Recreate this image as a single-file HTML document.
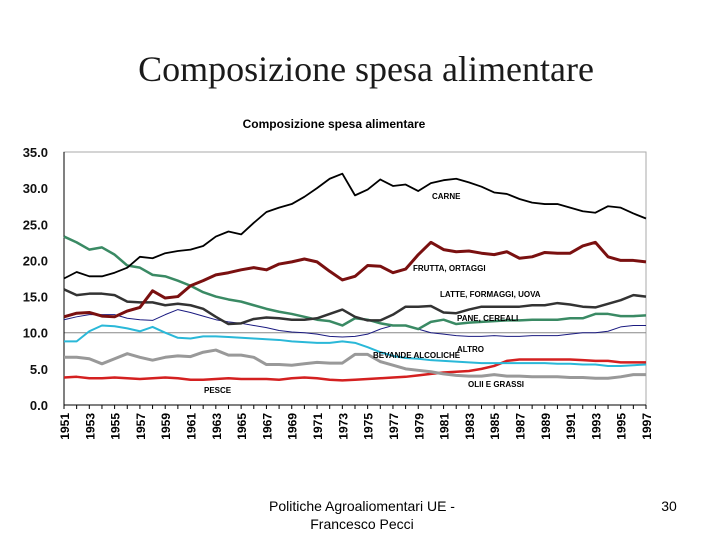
<!DOCTYPE html>
<html><head><meta charset="utf-8"><style>
body{margin:0;background:#fff;width:720px;height:540px;overflow:hidden;font-family:"Liberation Sans",sans-serif}
</style></head><body>
<svg width="720" height="540" xmlns="http://www.w3.org/2000/svg">
<text x="366" y="81" text-anchor="middle" font-family="Liberation Serif" font-size="36" fill="#1a1a1a">Composizione spesa alimentare</text>
<text x="334" y="128" text-anchor="middle" font-size="12" font-weight="bold">Composizione spesa alimentare</text>
<g id="chart"></g>
<text x="362" y="511" text-anchor="middle" font-size="14">Politiche Agroaliomentari UE -</text>
<text x="362" y="529" text-anchor="middle" font-size="14">Francesco Pecci</text>
<text x="669" y="511" text-anchor="middle" font-size="14">30</text>
</svg>
<script>
const years=[];for(let y=1951;y<=1997;y++)years.push(y);
const yTicks=[0,5,10,15,20,25,30,35];
const carne=[17.5,18.4,17.8,17.8,18.3,19.0,20.5,20.3,21.0,21.3,21.5,22.0,23.3,24.0,23.6,25.2,26.7,27.3,27.8,28.8,30.0,31.3,32.0,29.0,29.8,31.2,30.3,30.5,29.6,30.7,31.1,31.3,30.8,30.2,29.4,29.2,28.5,28.0,27.8,27.8,27.3,26.8,26.6,27.5,27.3,26.5,25.8];
const frutta=[12.2,12.7,12.8,12.3,12.2,13.0,13.5,15.8,14.8,15.0,16.5,17.2,18.0,18.3,18.7,19.0,18.7,19.5,19.8,20.2,19.8,18.5,17.3,17.8,19.3,19.2,18.3,18.8,20.8,22.5,21.5,21.2,21.3,21.0,20.8,21.2,20.3,20.5,21.1,21.0,21.0,22.0,22.5,20.5,20.0,20.0,19.8];
const latte=[16.0,15.2,15.4,15.4,15.2,14.3,14.2,14.2,13.8,14.0,13.8,13.3,12.2,11.2,11.3,11.9,12.1,12.0,11.8,11.8,12.0,12.6,13.2,12.2,11.7,11.7,12.5,13.6,13.6,13.7,12.8,12.7,13.2,13.6,13.6,13.6,13.6,13.8,13.8,14.1,13.9,13.6,13.5,14.0,14.5,15.2,15.0];
const pane=[23.3,22.5,21.5,21.8,20.8,19.3,19.0,18.0,17.8,17.2,16.5,15.6,15.0,14.6,14.3,13.8,13.3,12.9,12.6,12.2,11.8,11.6,11.0,12.0,11.8,11.3,11.0,11.0,10.5,11.5,11.8,11.2,11.4,11.5,11.6,11.7,11.7,11.8,11.8,11.8,12.0,12.0,12.6,12.6,12.3,12.3,12.4];
const altro=[11.8,12.2,12.5,12.5,12.5,12.0,11.8,11.7,12.5,13.2,12.8,12.3,11.8,11.5,11.3,11.0,10.7,10.3,10.1,10.0,9.8,9.5,9.4,9.5,9.8,10.5,11.0,11.0,10.5,10.0,9.8,9.6,9.5,9.5,9.6,9.5,9.5,9.6,9.6,9.6,9.8,10.0,10.0,10.2,10.8,11.0,11.0];
const bevande=[8.8,8.8,10.2,11.0,10.9,10.6,10.2,10.8,10.0,9.3,9.2,9.5,9.5,9.4,9.3,9.2,9.1,9.0,8.8,8.7,8.6,8.6,8.8,8.6,8.0,7.3,6.8,6.5,6.4,6.2,6.1,6.0,5.9,5.8,5.8,5.8,5.8,5.8,5.8,5.7,5.7,5.6,5.6,5.4,5.4,5.5,5.6];
const olii=[6.6,6.6,6.4,5.7,6.4,7.1,6.6,6.2,6.6,6.8,6.7,7.3,7.6,6.9,6.9,6.6,5.6,5.6,5.5,5.7,5.9,5.8,5.8,7.0,7.0,6.0,5.5,5.0,4.8,4.6,4.3,4.1,4.0,4.0,4.2,4.0,4.0,3.9,3.9,3.9,3.8,3.8,3.7,3.7,3.9,4.2,4.2];
const pesce=[3.8,3.9,3.7,3.7,3.8,3.7,3.6,3.7,3.8,3.7,3.5,3.5,3.6,3.7,3.6,3.6,3.6,3.5,3.7,3.8,3.7,3.5,3.4,3.5,3.6,3.7,3.8,3.9,4.1,4.3,4.5,4.6,4.7,5.0,5.4,6.1,6.3,6.3,6.3,6.3,6.3,6.2,6.1,6.1,5.9,5.9,5.9];
const L=64,R=646,T=152,B=405;
const xs=y=>L+(y-1951)*(R-L)/46, ys=v=>B-v*(B-T)/35;
const g=document.getElementById('chart'),NS='http://www.w3.org/2000/svg';
function mk(t,a){const e=document.createElementNS(NS,t);for(const k in a)e.setAttribute(k,a[k]);g.appendChild(e);return e;}
let e=mk('rect',{x:L,y:T,width:R-L,height:B-T,fill:'none',stroke:'#aaa','stroke-width':1});


e=mk('line',{x1:L,x2:R,y1:ys(10),y2:ys(10),stroke:'#888'});


e=mk('line',{x1:L,x2:L,y1:T,y2:B,stroke:'#000'});


e=mk('line',{x1:L,x2:R,y1:B,y2:B,stroke:'#000'});


yTicks.forEach(v=>{const t=mk('text',{x:48,y:ys(v)+5,'text-anchor':'end','font-size':13,'font-weight':'bold',fill:'#111'});t.textContent=v.toFixed(1);

});
years.forEach(y=>{const tk=mk('line',{x1:xs(y),x2:xs(y),y1:B,y2:B+4,stroke:'#000'});


if((y-1951)%2===0){const t=mk('text',{x:0,y:0,'text-anchor':'end','font-size':12,'font-weight':'bold',transform:`translate(${xs(y)+5},${B+8}) rotate(-90)`});t.textContent=y;

}});
const series=[[pesce,'#d42020',2.5,'pesce'],[olii,'#999',3,'olii-e-grassi'],[bevande,'#2ab8d8',2,'bevande-alcoliche'],[altro,'#1a1a80',1,'altro'],[pane,'#3a8a64',2.5,'pane-cereali'],[latte,'#333',2.5,'latte-formaggi-uova'],[frutta,'#7a1010',3,'frutta-ortaggi'],[carne,'#000',1.8,'carne']];
series.forEach(([d,c,w,n])=>{const p=mk('polyline',{points:d.map((v,i)=>xs(years[i])+','+ys(v)).join(' '),fill:'none',stroke:c,'stroke-width':w,'stroke-linejoin':'round'});

});
[['CARNE',432,199],['FRUTTA, ORTAGGI',413,271],['LATTE, FORMAGGI, UOVA',440,297],['PANE, CEREALI',457,321],['ALTRO',457,352],['BEVANDE ALCOLICHE',373,358],['OLII E GRASSI',468,387],['PESCE',204,393]].forEach(([s,x,y])=>{const t=mk('text',{x:x,y:y,'font-size':8,'font-weight':'bold'});t.textContent=s;

});
</script>
</body></html>
